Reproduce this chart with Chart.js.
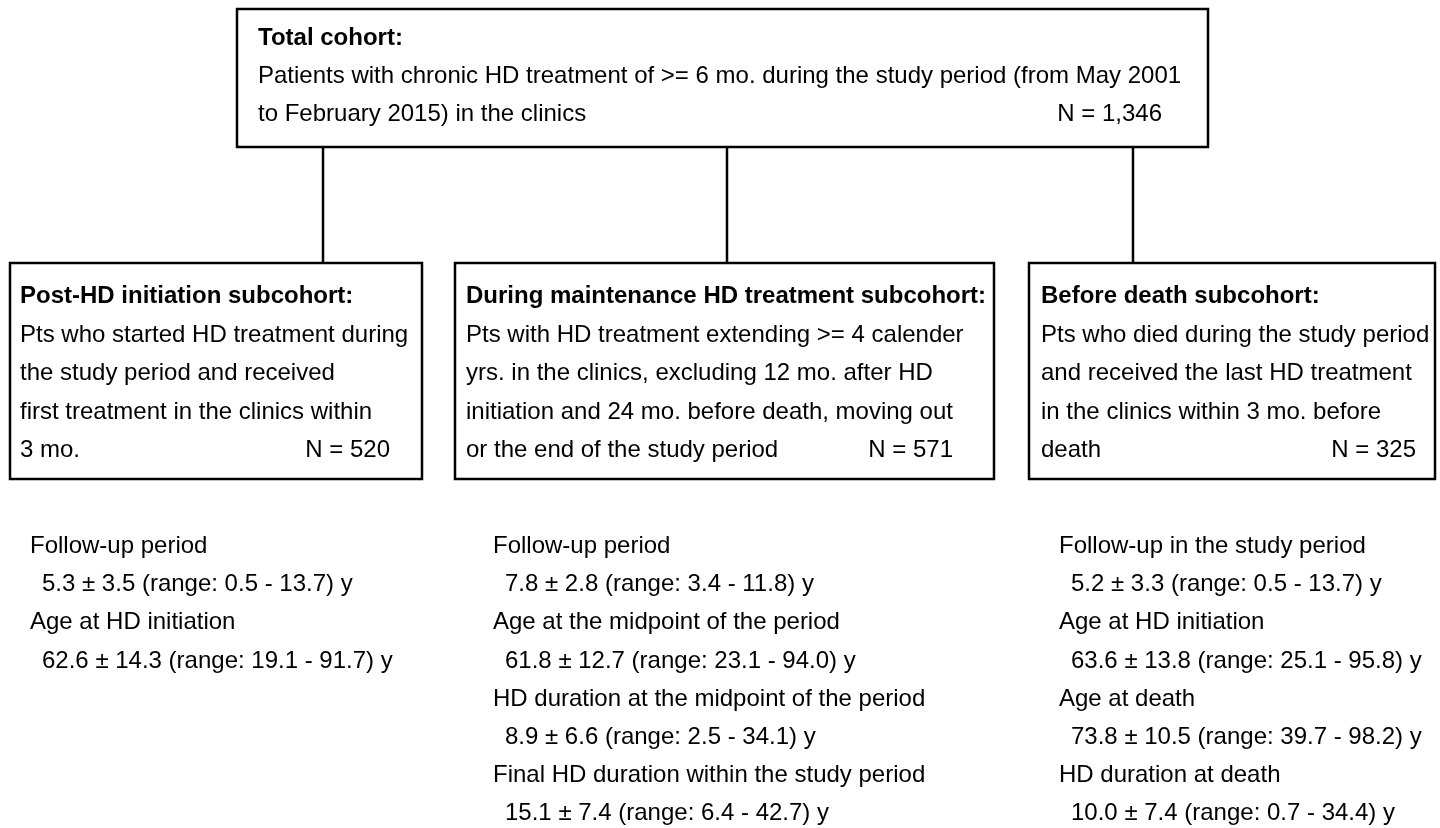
<!DOCTYPE html>
<html>
<head>
<meta charset="utf-8">
<script src="https://cdn.jsdelivr.net/npm/chart.js@4.4.1/dist/chart.umd.min.js"></script>
<style>
  html, body { margin: 0; padding: 0; background: #fff; }
  #wrap { width: 1440px; height: 828px; }
</style>
</head>
<body>
<div id="wrap"><canvas id="flow" width="1440" height="828"></canvas></div>
<script>
// Flow chart content
const totalTitle = 'Total cohort:';
const totalLines = [
  'Patients with chronic HD treatment of >= 6 mo. during the study period (from May 2001',
  'to February 2015) in the clinics'
];
const totalN = 'N = 1,346';

const subTitles = [
  'Post-HD initiation subcohort:',
  'During maintenance HD treatment subcohort:',
  'Before death subcohort:'
];
const subLines = [
  ['Pts who started HD treatment during', 'the study period and received',
   'first treatment in the clinics within', '3 mo.'],
  ['Pts with HD treatment extending >= 4 calender', 'yrs. in the clinics, excluding 12 mo. after HD',
   'initiation and 24 mo. before death, moving out', 'or the end of the study period'],
  ['Pts who died during the study period', 'and received the last HD treatment',
   'in the clinics within 3 mo. before', 'death']
];
const subN = ['N = 520', 'N = 571', 'N = 325'];

const postHDStats = [
  ['Follow-up period', '5.3 ± 3.5 (range: 0.5 - 13.7) y'],
  ['Age at HD initiation', '62.6 ± 14.3 (range: 19.1 - 91.7) y']
];
const maintenanceStats = [
  ['Follow-up period', '7.8 ± 2.8 (range: 3.4 - 11.8) y'],
  ['Age at the midpoint of the period', '61.8 ± 12.7 (range: 23.1 - 94.0) y'],
  ['HD duration at the midpoint of the period', '8.9 ± 6.6 (range: 2.5 - 34.1) y'],
  ['Final HD duration within the study period', '15.1 ± 7.4 (range: 6.4 - 42.7) y']
];
const beforeDeathStats = [
  ['Follow-up in the study period', '5.2 ± 3.3 (range: 0.5 - 13.7) y'],
  ['Age at HD initiation', '63.6 ± 13.8 (range: 25.1 - 95.8) y'],
  ['Age at death', '73.8 ± 10.5 (range: 39.7 - 98.2) y'],
  ['HD duration at death', '10.0 ± 7.4 (range: 0.7 - 34.4) y']
];

// layout (in scale units, 1 unit = 1 px)
const topBox = { x0: 237, x1: 1208, y0: 9, y1: 147, textX: 258, nRight: 1162, base: 45, gap: 38 };
const subBoxes = [
  { x0: 10, x1: 422, stem: 323, textX: 20, nRight: 390 },
  { x0: 455, x1: 994, stem: 727, textX: 466, nRight: 953 },
  { x0: 1029, x1: 1435, stem: 1133, textX: 1041, nRight: 1416 }
];
const subY0 = 263, subY1 = 479, subBase = 303, subGap = 38.5;
const statX = [30, 493, 1059];
const statBase = 553;
const statGap = 38.2;

const FONT = '"Liberation Sans", Arial, Helvetica, sans-serif';
const SIZE = 24;

const flowPlugin = {
  id: 'flow',
  afterDraw(chart) {
    const ctx = chart.ctx;
    const xs = chart.scales.x, ys = chart.scales.y;
    const px = v => xs.getPixelForValue(v);
    const py = v => ys.getPixelForValue(v);
    ctx.save();
    ctx.strokeStyle = '#000';
    ctx.fillStyle = '#000';
    ctx.lineWidth = 2.5;
    ctx.textBaseline = 'alphabetic';

    // top box
    ctx.strokeRect(px(topBox.x0), py(topBox.y0), px(topBox.x1) - px(topBox.x0), py(topBox.y1) - py(topBox.y0));
    ctx.font = 'bold ' + SIZE + 'px ' + FONT;
    ctx.textAlign = 'left';
    ctx.fillText(totalTitle, px(topBox.textX), py(topBox.base));
    ctx.font = SIZE + 'px ' + FONT;
    totalLines.forEach((t, i) => ctx.fillText(t, px(topBox.textX), py(topBox.base + (i + 1) * topBox.gap)));
    ctx.textAlign = 'right';
    ctx.fillText(totalN, px(topBox.nRight), py(topBox.base + 2 * topBox.gap));

    // connectors + sub boxes
    subBoxes.forEach((b, k) => {
      ctx.beginPath();
      ctx.moveTo(px(b.stem), py(topBox.y1));
      ctx.lineTo(px(b.stem), py(subY0));
      ctx.stroke();
      ctx.strokeRect(px(b.x0), py(subY0), px(b.x1) - px(b.x0), py(subY1) - py(subY0));
      ctx.textAlign = 'left';
      ctx.font = 'bold ' + SIZE + 'px ' + FONT;
      ctx.fillText(subTitles[k], px(b.textX), py(subBase));
      ctx.font = SIZE + 'px ' + FONT;
      subLines[k].forEach((t, i) => ctx.fillText(t, px(b.textX), py(subBase + (i + 1) * subGap)));
      ctx.textAlign = 'right';
      ctx.fillText(subN[k], px(b.nRight), py(subBase + subLines[k].length * subGap));
    });

    // stats below each box
    ctx.textAlign = 'left';
    ctx.font = SIZE + 'px ' + FONT;
    [postHDStats, maintenanceStats, beforeDeathStats].forEach((stats, k) => {
      stats.forEach((pair, i) => {
        const y = statBase + i * 2 * statGap;
        ctx.fillText(pair[0], px(statX[k]), py(y));
        ctx.fillText(pair[1], px(statX[k] + 12), py(y + statGap));
      });
    });
    ctx.restore();
  }
};

new Chart(document.getElementById('flow'), {
  type: 'scatter',
  data: { datasets: [{ data: [] }] },
  options: {
    responsive: false,
    animation: false,
    layout: { padding: 0 },
    plugins: { legend: { display: false }, tooltip: { enabled: false } },
    scales: {
      x: { type: 'linear', min: 0, max: 1440, display: false },
      y: { type: 'linear', min: 0, max: 828, reverse: true, display: false }
    }
  },
  plugins: [flowPlugin]
});
</script>
</body>
</html>
